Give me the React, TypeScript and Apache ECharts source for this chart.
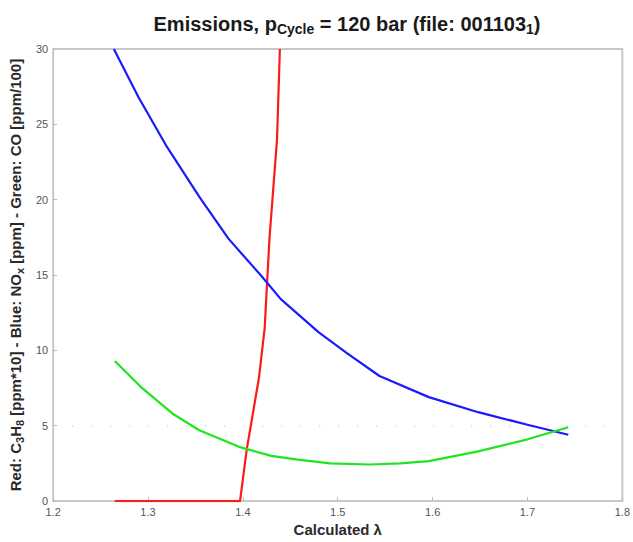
import React, { useEffect, useRef } from "react";
import * as echarts from "echarts";

const xTicks = [1.2, 1.3, 1.4, 1.5, 1.6, 1.7, 1.8];
const yTicks = [0, 5, 10, 15, 20, 25, 30];

const redLambda = [1.265, 1.3, 1.35, 1.397, 1.404, 1.417, 1.423, 1.428, 1.436, 1.439];
const redValues = [0, 0, 0, 0, 3.4, 8.2, 11.5, 17.4, 24, 30];

const blueLambda = [1.264, 1.29, 1.32, 1.355, 1.385, 1.42, 1.44, 1.48, 1.51, 1.544, 1.596, 1.648, 1.7, 1.743];
const blueValues = [30, 26.8, 23.5, 20.1, 17.4, 14.9, 13.4, 11.2, 9.8, 8.3, 6.9, 5.9, 5.07, 4.4];

const greenLambda = [1.265, 1.292, 1.326, 1.354, 1.396, 1.43, 1.458, 1.492, 1.534, 1.566, 1.596, 1.648, 1.7, 1.743];
const greenValues = [9.3, 7.6, 5.8, 4.7, 3.6, 3.0, 2.75, 2.5, 2.43, 2.5, 2.65, 3.3, 4.1, 4.9];

const zip = (xs: number[], ys: number[]) => xs.map((x, i) => [x, ys[i]]);

export default function App() {
  const ref = useRef<HTMLDivElement>(null);
  useEffect(() => {
    if (!ref.current) return;
    const chart = echarts.init(ref.current, null, { renderer: "svg" });
    const font = "Liberation Sans, Arial, sans-serif";
    chart.setOption({
      animation: false,
      textStyle: { fontFamily: font },
      title: {
        text: "{b|Emissions, p}{s|Cycle}{b| = 120 bar (file: 001103}{s|1}{b|)}",
        left: 342,
        textAlign: "center",
        top: 6,
        textStyle: {
          rich: {
            b: { fontSize: 20, fontWeight: "bold", color: "#1a1a1a", fontFamily: font },
            s: { fontSize: 14, fontWeight: "bold", color: "#1a1a1a", fontFamily: font, padding: [11, 0, 0, 0] },
          },
        },
      },
      grid: {
        left: 51,
        right: 3,
        top: 49,
        bottom: 37,
        show: true,
        borderColor: "#c8c8c8",
        borderWidth: 2,
      },
      xAxis: {
        type: "value",
        min: 1.2,
        max: 1.8,
        interval: 0.1,
        name: "Calculated λ",
        nameLocation: "middle",
        nameGap: 20,
        nameTextStyle: { fontSize: 15, fontWeight: "bold", color: "#2a2a2a" },
        axisLine: { show: false },
        axisTick: { show: true, inside: true, length: 4, lineStyle: { color: "#bbb" } },
        splitLine: { show: false },
        axisLabel: {
          fontSize: 11,
          color: "#555",
          margin: 5,
          formatter: (v: number) => {
            const t = xTicks.find((k) => Math.abs(k - v) < 1e-6);
            return t !== undefined ? t.toFixed(1) : "";
          },
        },
      },
      yAxis: {
        type: "value",
        min: 0,
        max: 30,
        interval: 5,
        name: "{r|Red: C}{s|3}{r|H}{s|8}{r| [ppm*10] - Blue: NO}{s|x}{r| [ppm] - Green: CO [ppm/100]}",
        nameLocation: "middle",
        nameRotate: 90,
        nameGap: 23,
        nameTextStyle: {
          rich: {
            r: { fontSize: 15, fontWeight: "bold", color: "#2a2a2a", fontFamily: font },
            s: { fontSize: 11, fontWeight: "bold", color: "#2a2a2a", fontFamily: font, padding: [8, 0, 0, 0] },
          },
        },
        axisLine: { show: false },
        axisTick: { show: true, inside: true, length: 4, lineStyle: { color: "#bbb" } },
        splitLine: { show: false },
        axisLabel: {
          fontSize: 11,
          color: "#555",
          margin: 5,
          formatter: (v: number) => (yTicks.includes(v) ? String(v) : ""),
        },
      },
      series: [
        {
          type: "line",
          data: zip(redLambda, redValues),
          symbol: "none",
          clip: true,
          lineStyle: { color: "#ff1a1a", width: 2.2 },
          z: 3,
        },
        {
          type: "line",
          data: zip(blueLambda, blueValues),
          symbol: "none",
          clip: true,
          lineStyle: { color: "#1a1aff", width: 2.2 },
          z: 3,
          markLine: {
            silent: true,
            symbol: "none",
            label: { show: false },
            lineStyle: { color: "#cfcfcf", type: [1, 18], width: 1.5 },
            data: [{ yAxis: 5 }],
            z: 1,
          },
        },
        {
          type: "line",
          data: zip(greenLambda, greenValues),
          symbol: "none",
          clip: true,
          lineStyle: { color: "#1ee61e", width: 2.2 },
          z: 4,
        },
      ],
    });
    return () => chart.dispose();
  }, []);
  return <div ref={ref} style={{ width: 633, height: 542, position: "absolute", left: 0, top: 0, background: "#fff" }} />;
}
